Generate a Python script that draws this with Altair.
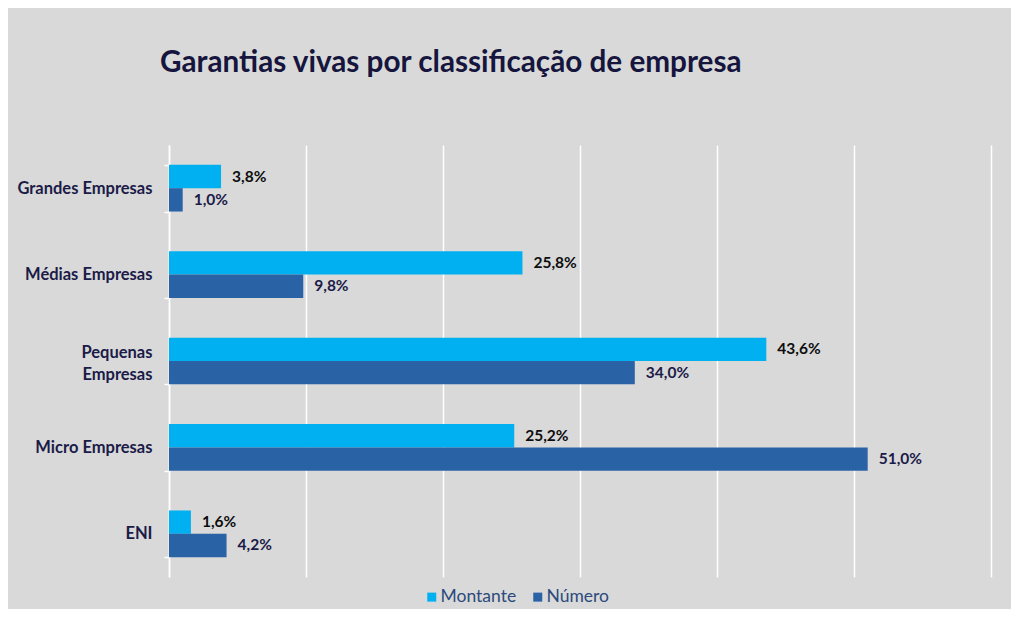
import altair as alt
import pandas as pd

categories = ["Grandes Empresas", "Médias Empresas", "Pequenas Empresas", "Micro Empresas", "ENI"]
series = ["Montante", "Número"]
montante = [3.8, 25.8, 43.6, 25.2, 1.6]
numero = [1.0, 9.8, 34.0, 51.0, 4.2]
colors = ["#00b0f0", "#2a62a6"]

rows = []
for c, m, n in zip(categories, montante, numero):
    rows.append({"cat": c, "serie": "Montante", "value": m, "label": f"{m:.1f}".replace(".", ",") + "%"})
    rows.append({"cat": c, "serie": "Número", "value": n, "label": f"{n:.1f}".replace(".", ",") + "%"})
df = pd.DataFrame(rows)

FONT = "Lato"
NAVY = "#1b1b48"

y_enc = alt.Y(
    "cat:N",
    sort=categories,
    scale=alt.Scale(paddingInner=0.46, paddingOuter=0.23),
    axis=alt.Axis(
        title=None,
        domainColor="white",
        domainWidth=1.5,
        tickColor="white",
        tickWidth=1.5,
        tickSize=5,
        tickBand="extent",
        labelPadding=12,
        labelFont=FONT,
        labelFontSize=16.5,
        labelFontWeight="bold",
        labelColor=NAVY,
        labelLineHeight=22,
        labelOffset={"condition": {"test": "datum.label == 'Pequenas Empresas'", "value": -9}, "value": 0},
        labelExpr="datum.label == 'Pequenas Empresas' ? ['Pequenas', 'Empresas'] : datum.label",
    ),
)
x_enc = alt.X(
    "value:Q",
    scale=alt.Scale(domain=[0, 60]),
    axis=alt.Axis(
        title=None,
        labels=False,
        ticks=False,
        domain=False,
        grid=True,
        gridColor="white",
        gridWidth=1.5,
        values=[0, 10, 20, 30, 40, 50, 60],
    ),
)
yoff = alt.YOffset("serie:N", sort=series)

bars = alt.Chart(df).mark_bar().encode(
    x=x_enc,
    y=y_enc,
    yOffset=yoff,
    color=alt.Color(
        "serie:N",
        scale=alt.Scale(domain=series, range=colors),
        legend=alt.Legend(
            title=None,
            orient="none",
            direction="horizontal",
            legendX=254,
            legendY=443,
            symbolType="square",
            symbolSize=81,
            symbolStrokeWidth=0,
            labelFont=FONT,
            labelFontSize=17.5,
            labelColor="#2c4a7c",
            labelOffset=0,
            columnPadding=12,
        ),
    ),
)

labels = alt.Chart(df).mark_text(
    align="left", baseline="middle", dx=11, font=FONT, fontSize=15.5, fontWeight="bold"
).encode(
    x=alt.X("value:Q"),
    y=alt.Y("cat:N", sort=categories),
    yOffset=yoff,
    text="label:N",
    color=alt.condition(alt.datum.serie == "Montante", alt.value("#0d0d0d"), alt.value(NAVY)),
)

chart = (
    alt.layer(bars, labels)
    .properties(
        width=822,
        height=432,
        background="#d9d9d9",
        padding={"left": 161, "top": 137, "right": 20, "bottom": 32},
        autosize=alt.AutoSizeParams(type="none"),
        title=alt.TitleParams(
            "Garantias vivas por classificação de empresa",
            anchor="start",
            frame="group",
            font=FONT,
            fontSize=29.7,
            fontWeight="bold",
            color="#15153d",
            dx=-9,
            offset=58,
        ),
    )
    .configure_view(stroke=None)
)

chart.save("out.html", embed_options={"renderer": "svg", "actions": False})
